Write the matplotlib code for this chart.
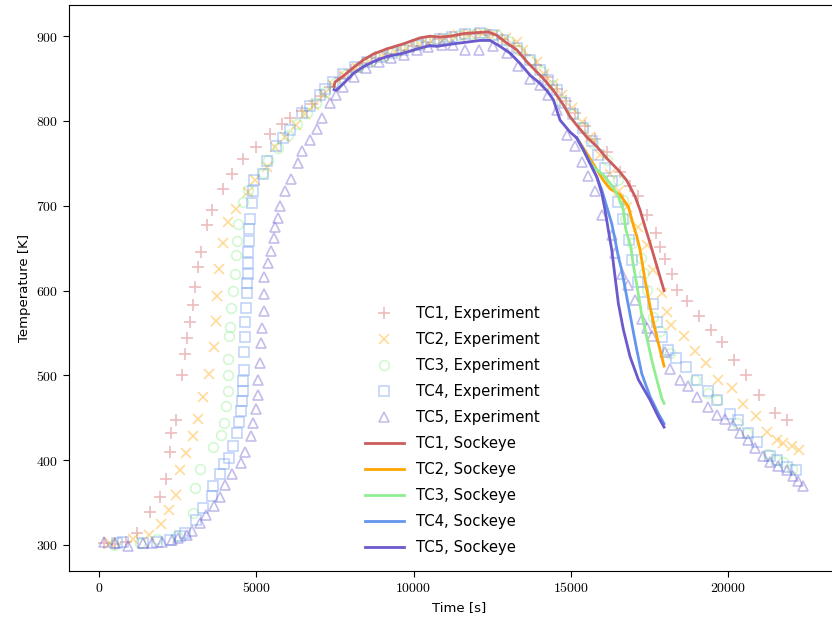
import matplotlib
matplotlib.use("Agg")
import matplotlib.pyplot as plt
from matplotlib.ticker import FuncFormatter

plt.rcParams['mathtext.fontset'] = 'cm'
plt.rcParams['font.family'] = ['DejaVu Sans']

# experiment data (time [s], temperature [K])
tc1_t = [150, 520, 850, 1199, 1632, 1950, 2131, 2250, 2300, 2449, 2649, 2735, 2808, 2894, 2980,
         3043, 3158, 3234, 3425, 3593, 3934, 4229, 4570, 4993, 5438, 5810, 6074, 6450, 6760,
         7050, 7330, 7650, 8000, 8400, 8800, 9200, 9600, 10000, 10400, 10800, 11200, 11600,
         12000, 12400, 12800, 13200, 13550, 13900, 14250, 14550, 14850, 15150, 15450, 15773,
         16144, 16568, 16886, 17150, 17416, 17713, 17840, 17999, 18212, 18371, 18689, 19080,
         19452, 19801, 20203, 20575, 20998, 21506, 21888]
tc1_T = [302, 301, 303, 314, 339, 357, 378, 410, 432, 447, 500, 525, 544, 563, 583,
         604, 628, 645, 677, 695, 720, 737, 755, 769, 785, 796, 804, 812, 820,
         830, 840, 851, 860, 868, 874, 879, 884, 889, 893, 897, 899, 902,
         903, 902, 897, 889, 878, 866, 852, 838, 824, 810, 794, 779,
         764, 740, 723, 711, 689, 668, 651, 637, 619, 601, 588, 570,
         554, 539, 518, 500, 477, 456, 447]

tc2_t = [350, 1091, 1590, 1972, 2226, 2449, 2576, 2757, 2999, 3158, 3318, 3508, 3667, 3712,
         3743, 3826, 3934, 4112, 4357, 4729, 4961, 5333, 5597, 5915, 6250, 6550, 6850, 7150,
         7450, 7800, 8200, 8600, 9000, 9400, 9800, 10200, 10600, 11000, 11400, 11800, 12200,
         12600, 12950, 13283, 13493, 13918, 14151, 14448, 14713, 15030, 15350, 15614, 15932,
         16250, 16546, 16800, 17150, 17416, 17627, 17894, 18053, 18180, 18603, 18953, 19303,
         19694, 20120, 20489, 20893, 21252, 21551, 21761, 22028, 22270]
tc2_T = [302, 307, 312, 325, 341, 359, 388, 409, 428, 449, 474, 502, 534, 564,
         594, 626, 656, 681, 696, 716, 730, 746, 769, 781, 795, 808, 819, 832,
         843, 854, 863, 870, 876, 881, 886, 890, 894, 898, 901, 903, 904,
         903, 898, 893, 884, 870, 856, 844, 831, 815, 799, 781, 760,
         738, 718, 699, 675, 654, 624, 597, 575, 559, 546, 529, 515,
         494, 485, 466, 452, 433, 424, 420, 417, 412]

tc3_t = [477, 1304, 1835, 2471, 2980, 3053, 3212, 3635, 3870, 3975, 4039, 4093, 4100, 4110,
         4144, 4166, 4188, 4252, 4325, 4357, 4398, 4430, 4589, 4748, 5225, 5384, 5700, 6000,
         6300, 6600, 6900, 7200, 7500, 7850, 8250, 8650, 9050, 9450, 9850, 10250, 10650, 11050,
         11450, 11850, 12250, 12650, 13000, 13350, 13700, 14050, 14400, 14692, 15083, 15401,
         15719, 16144, 16513, 16673, 16727, 16940, 17226, 17331, 17416, 17627, 17840, 18158,
         18953, 19376, 19643, 20279, 20597, 21284, 21551, 21761, 22028]
tc3_T = [300, 302, 307, 310, 338, 367, 390, 416, 430, 444, 464, 482, 500, 519,
         546, 557, 580, 599, 620, 642, 659, 679, 705, 719, 739, 754, 768, 783,
         797, 810, 821, 834, 845, 856, 864, 871, 877, 882, 887, 891, 895, 898,
         901, 903, 904, 901, 894, 884, 872, 859, 843, 823, 808, 793,
         774, 754, 730, 707, 685, 656, 639, 621, 601, 569, 552, 526,
         494, 479, 471, 444, 432, 407, 400, 398, 390]

tc4_t = [563, 773, 1410, 1835, 2258, 2576, 2735, 3085, 3318, 3585, 3635, 3848, 3975, 4144,
         4252, 4379, 4443, 4506, 4548, 4570, 4589, 4595, 4620, 4643, 4652, 4665, 4700, 4706,
         4729, 4738, 4748, 4775, 4780, 4802, 4865, 4888, 4929, 5205, 5353, 5629, 5861, 6074,
         6446, 6710, 7028, 7187, 7452, 7769, 8141, 8513, 8936, 9308, 9677, 10103, 10472, 10844,
         11216, 11639, 12116, 12488, 12857, 13283, 13706, 14024, 14288, 14555, 14819, 15083,
         15401, 15667, 15878, 16091, 16304, 16495, 16673, 16864, 16940, 17150, 17309, 17608,
         17754, 17894, 18104, 18349, 18667, 19026, 19376, 19662, 20066, 20330, 20648, 20934,
         21338, 21570, 21869, 22165]
tc4_T = [302, 303, 302, 303, 306, 310, 314, 330, 344, 358, 370, 384, 396, 403,
         417, 432, 445, 458, 470, 481, 493, 506, 528, 545, 563, 580, 597, 609,
         620, 632, 645, 659, 673, 685, 703, 718, 730, 737, 753, 770, 780, 789,
         810, 818, 831, 838, 846, 856, 864, 870, 876, 880, 884, 890, 893, 897,
         899, 903, 904, 901, 895, 886, 872, 860, 848, 837, 821, 808,
         792, 776, 760, 744, 729, 705, 685, 660, 636, 610, 598, 584,
         563, 545, 530, 520, 510, 494, 481, 471, 455, 447, 432, 422,
         405, 400, 392, 388]

tc5_t = [159, 509, 932, 1410, 1676, 1994, 2312, 2522, 2789, 2948, 3212, 3403, 3657, 3848,
         4007, 4220, 4506, 4643, 4843, 4907, 4993, 5047, 5066, 5120, 5152, 5174, 5247, 5238, 5257,
         5384, 5479, 5565, 5607, 5683, 5756, 5915, 6096, 6319, 6465, 6710, 6923, 7082, 7346,
         7537, 7769, 8100, 8500, 8900, 9300, 9700, 10100, 10472, 10898, 11267, 11639, 12094,
         12539, 12965, 13334, 13706, 14024, 14288, 14555, 14873, 15137, 15350, 15560, 15773,
         15985, 16304, 16409, 16622, 16832, 17045, 17258, 17416, 17576, 17999, 18158, 18476,
         18740, 19006, 19376, 19643, 19907, 20151, 20384, 20648, 20861, 21125, 21338, 21602,
         21869, 22079, 22238, 22397]
tc5_T = [304, 302, 299, 302, 302, 304, 306, 308, 312, 316, 326, 335, 346, 357,
         371, 384, 397, 410, 428, 444, 460, 477, 494, 515, 538, 556, 576, 596, 616,
         633, 647, 662, 675, 686, 700, 718, 732, 750, 765, 778, 790, 803, 821,
         831, 840, 852, 862, 869, 874, 878, 884, 887, 890, 890, 884, 884,
         888, 880, 865, 850, 842, 831, 813, 783, 770, 752, 735, 717,
         689, 666, 644, 620, 607, 589, 567, 556, 546, 528, 507, 495,
         487, 475, 463, 453, 448, 442, 432, 424, 414, 405, 398, 393,
         388, 381, 375, 370]

# Sockeye results
sk1_t = [7473, 7505, 7769, 8087, 8405, 8723, 9149, 9677, 10208, 10526, 10844, 11162, 11585,
         11903, 12380, 12647, 12965, 13283, 13601, 13865, 14130, 14448, 14766, 14978, 15190,
         15509, 15827, 16144, 16513, 16778, 17045, 17204, 17363, 17522, 17680, 17967]
sk1_T = [841, 846, 853, 863, 872, 879, 885, 891, 898, 900, 899, 900, 903,
         904, 905, 901, 892, 884, 870, 860, 850, 836, 819, 805, 795,
         781, 770, 756, 742, 730, 711, 695, 675, 656, 636, 600]

sk2_t = [15190, 15509, 15773, 16037, 16250, 16568, 16832, 16991, 17100, 17204, 17258, 17363,
         17522, 17680, 17840, 17967]
sk2_T = [780, 762, 746, 730, 720, 713, 699, 677, 664, 648, 636, 612,
         581, 554, 530, 511]

sk3_t = [15190, 15509, 15720, 16037, 16304, 16513, 16673, 16750, 16908, 16972, 17090, 17250,
         17410, 17576, 17735, 17894, 17967]
sk3_T = [780, 758, 746, 736, 724, 711, 695, 672, 652, 634, 609, 573,
         546, 518, 495, 473, 467]

sk4_t = [15190, 15401, 15614, 15827, 15985, 16144, 16304, 16409, 16513, 16622, 16778, 16940,
         17100, 17258, 17522, 17786, 17967]
sk4_T = [780, 766, 750, 734, 719, 699, 679, 660, 640, 624, 593, 561,
         530, 502, 475, 455, 443]

sk5_t = [7473, 7537, 7769, 8087, 8405, 8723, 9149, 9677, 10208, 10526, 10738, 11267, 11693,
         12116, 12434, 12752, 13070, 13388, 13706, 13970, 14236, 14448, 14660, 14978, 15190,
         15401, 15614, 15827, 15985, 16091, 16196, 16304, 16409, 16513, 16673, 16886, 17150,
         17522, 17786, 17967]
sk5_T = [837, 836, 844, 856, 864, 870, 876, 880, 886, 889, 888, 891, 893,
         895, 895, 888, 880, 868, 854, 846, 836, 825, 801, 787, 780,
         766, 750, 734, 715, 695, 671, 648, 616, 585, 554, 522, 495,
         471, 451, 439]

colors = ['indianred', 'orange', 'lightgreen', 'cornflowerblue', 'slateblue']
markers = ['+', 'x', 'o', 's', '^']
msizes = [8, 7.5, 7, 7, 7.5]

fig = plt.figure(figsize=(8.32, 6.17), dpi=100)
# right spine sits past the image edge, as in the original crop
ax = fig.add_axes([69 / 832, 46 / 617, 781 / 832, 566 / 617])
ax.spines['right'].set_visible(False)

exp = [(tc1_t, tc1_T), (tc2_t, tc2_T), (tc3_t, tc3_T), (tc4_t, tc4_T), (tc5_t, tc5_T)]
for i, (t, T) in enumerate(exp):
    ax.plot(t, T, linestyle='none', marker=markers[i], color=colors[i], alpha=0.4,
            markersize=msizes[i], mfc='none', mew=1.2, label=f'TC{i + 1}, Experiment')

sim = [(sk1_t, sk1_T), (sk2_t, sk2_T), (sk3_t, sk3_T), (sk4_t, sk4_T), (sk5_t, sk5_T)]
for i, (t, T) in enumerate(sim):
    ax.plot(t, T, color=colors[i], lw=2, label=f'TC{i + 1}, Sockeye')

ax.set_xlim(-954, 23879)
ax.set_ylim(269.3, 936.8)
ax.set_xticks([0, 5000, 10000, 15000, 20000])
ax.set_yticks([300, 400, 500, 600, 700, 800, 900])
fmt = FuncFormatter(lambda v, p: f'${int(v)}$')
ax.xaxis.set_major_formatter(fmt)
ax.yaxis.set_major_formatter(fmt)
ax.tick_params(labelsize=10, length=4)
ax.set_xlabel('Time [s]', fontsize=9.5)
ax.set_ylabel('Temperature [K]', fontsize=9.5)

ax.legend(loc='lower left', bbox_to_anchor=(0.362, 0.005), frameon=False, fontsize=10.7,
          labelspacing=0.74, handlelength=2.6, handletextpad=0.8)

fig.savefig('out.png', dpi=100)
